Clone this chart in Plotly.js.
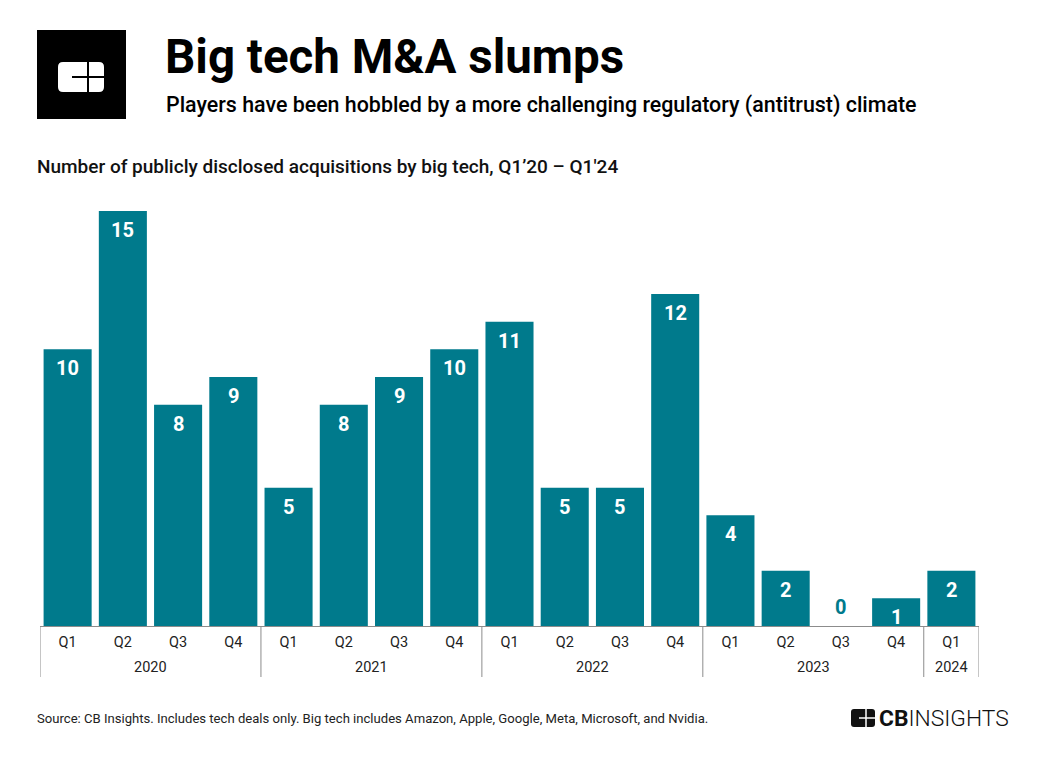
<!DOCTYPE html>
<html>
<head>
<meta charset="utf-8">
<script src="https://cdn.plot.ly/plotly-3.0.1.min.js"></script>
<style>html,body{margin:0;padding:0;background:#fff;}#chart{width:1040px;height:757px;}</style>
</head>
<body>
<div id="chart"></div>
<script>
const quarters = ["Q1","Q2","Q3","Q4","Q1","Q2","Q3","Q4","Q1","Q2","Q3","Q4","Q1","Q2","Q3","Q4","Q1"];
const years = ["2020","2020","2020","2020","2021","2021","2021","2021","2022","2022","2022","2022","2023","2023","2023","2023","2024"];
const acquisitions = [10,15,8,9,5,8,9,10,11,5,5,12,4,2,0,1,2];

const TEAL = "#007A8C";
const FONT = "Roboto, 'Noto Sans', sans-serif";

// plot area in pixels: left 40, right 979, top 211, bottom 626
const L = 40, R = 979, T = 211, B = 626;
const W = R - L, H = B - T;
const px = x => (x - L) / W;
const py = y => (B - y) / H;

const idx = acquisitions.map((_, i) => i);

// year groups
const groups = [];
years.forEach((y, i) => {
  if (!groups.length || groups[groups.length - 1].year !== y) groups.push({year: y, start: i, end: i});
  else groups[groups.length - 1].end = i;
});

const shapes = [];
const annotations = [];

// group dividers
const dividerPos = [-0.5].concat(groups.map(g => g.end + 0.5));
dividerPos.forEach(d => {
  shapes.push({type: "line", xref: "x", yref: "paper", x0: d, x1: d, y0: 0, y1: py(677),
    line: {color: "#8c8c8c", width: 1}});
});
groups.forEach(g => {
  annotations.push({xref: "x", yref: "paper", x: (g.start + g.end) / 2, y: py(667), text: g.year,
    showarrow: false, yanchor: "middle", xanchor: "center", font: {family: FONT, size: 14.5, color: "#222"}});
});

// bar value labels
acquisitions.forEach((v, i) => {
  annotations.push({xref: "x", yref: "y", x: i, y: v, text: String(v), showarrow: false,
    yanchor: "middle", yshift: v > 0 ? -19 : 19,
    font: {family: FONT, size: 20, color: v > 0 ? "#ffffff" : TEAL, weight: 700}});
});

// header texts
annotations.push({xref: "paper", yref: "paper", x: px(163), y: py(57), xanchor: "left", yanchor: "middle",
  text: "<b>Big tech M&A slumps</b>", showarrow: false, font: {family: FONT, size: 47.5, color: "#000"}});
annotations.push({xref: "paper", yref: "paper", x: px(164), y: py(105), xanchor: "left", yanchor: "middle",
  text: "Players have been hobbled by a more challenging regulatory (antitrust) climate", showarrow: false,
  font: {family: FONT, size: 21.4, color: "#000", weight: 500}});
annotations.push({xref: "paper", yref: "paper", x: px(35), y: py(166), xanchor: "left", yanchor: "middle",
  text: "Number of publicly disclosed acquisitions by big tech, Q1’20 – Q1'24", showarrow: false,
  font: {family: FONT, size: 19, color: "#111", weight: 500}});
annotations.push({xref: "paper", yref: "paper", x: px(35), y: py(718), xanchor: "left", yanchor: "middle",
  text: "Source: CB Insights. Includes tech deals only. Big tech includes Amazon, Apple, Google, Meta, Microsoft, and Nvidia.",
  showarrow: false, font: {family: FONT, size: 13.1, color: "#222"}});
annotations.push({xref: "paper", yref: "paper", x: px(877), y: py(718), xanchor: "left", yanchor: "middle",
  text: "<b>CB</b><span style=\"font-weight:300\">INSIGHTS</span>", showarrow: false,
  font: {family: FONT, size: 22.8, color: "#111"}});

// big logo
shapes.push({type: "rect", xref: "paper", yref: "paper", x0: px(37), x1: px(126), y0: py(119), y1: py(30),
  fillcolor: "#000", line: {width: 0}});
function rrect(x0, y0, x1, y1, r) {
  const X = v => px(v), Y = v => py(v);
  return `M ${X(x0 + r)} ${Y(y0)} L ${X(x1 - r)} ${Y(y0)} Q ${X(x1)} ${Y(y0)} ${X(x1)} ${Y(y0 + r)} ` +
    `L ${X(x1)} ${Y(y1 - r)} Q ${X(x1)} ${Y(y1)} ${X(x1 - r)} ${Y(y1)} L ${X(x0 + r)} ${Y(y1)} ` +
    `Q ${X(x0)} ${Y(y1)} ${X(x0)} ${Y(y1 - r)} L ${X(x0)} ${Y(y0 + r)} Q ${X(x0)} ${Y(y0)} ${X(x0 + r)} ${Y(y0)} Z`;
}
shapes.push({type: "path", xref: "paper", yref: "paper", path: rrect(58, 62, 104, 92, 5), fillcolor: "#fff", line: {width: 0}});
shapes.push({type: "line", xref: "paper", yref: "paper", x0: px(72), x1: px(104), y0: py(77), y1: py(77), line: {color: "#000", width: 2}});
shapes.push({type: "line", xref: "paper", yref: "paper", x0: px(88), x1: px(88), y0: py(62), y1: py(92), line: {color: "#000", width: 2}});

// small logo
shapes.push({type: "path", xref: "paper", yref: "paper", path: rrect(851, 709, 875, 727, 3), fillcolor: "#111", line: {width: 0}});
shapes.push({type: "line", xref: "paper", yref: "paper", x0: px(859), x1: px(875), y0: py(718), y1: py(718), line: {color: "#fff", width: 1.5}});
shapes.push({type: "line", xref: "paper", yref: "paper", x0: px(866), x1: px(866), y0: py(709), y1: py(727), line: {color: "#fff", width: 1.5}});

const trace = {
  type: "bar",
  x: idx,
  y: acquisitions,
  marker: {color: TEAL, line: {width: 0}},
  hoverinfo: "skip"
};

const layout = {
  width: 1040, height: 757,
  margin: {l: L, r: 1040 - R, t: T, b: 757 - B, pad: 0},
  paper_bgcolor: "#fff", plot_bgcolor: "#fff",
  bargap: 0.13,
  showlegend: false,
  font: {family: FONT},
  xaxis: {
    range: [-0.5, acquisitions.length - 0.5],
    tickmode: "array", tickvals: idx, ticktext: quarters,
    showline: true, linecolor: "#8c8c8c", linewidth: 1,
    showgrid: false, zeroline: false, ticks: "",
    ticklabelstandoff: 3,
    tickfont: {family: FONT, size: 14.5, color: "#222"},
    fixedrange: true
  },
  yaxis: {
    range: [0, 15], visible: false, showgrid: false, zeroline: false, fixedrange: true
  },
  shapes: shapes,
  annotations: annotations
};

Plotly.newPlot("chart", [trace], layout, {displayModeBar: false, staticPlot: true});
</script>
</body>
</html>
